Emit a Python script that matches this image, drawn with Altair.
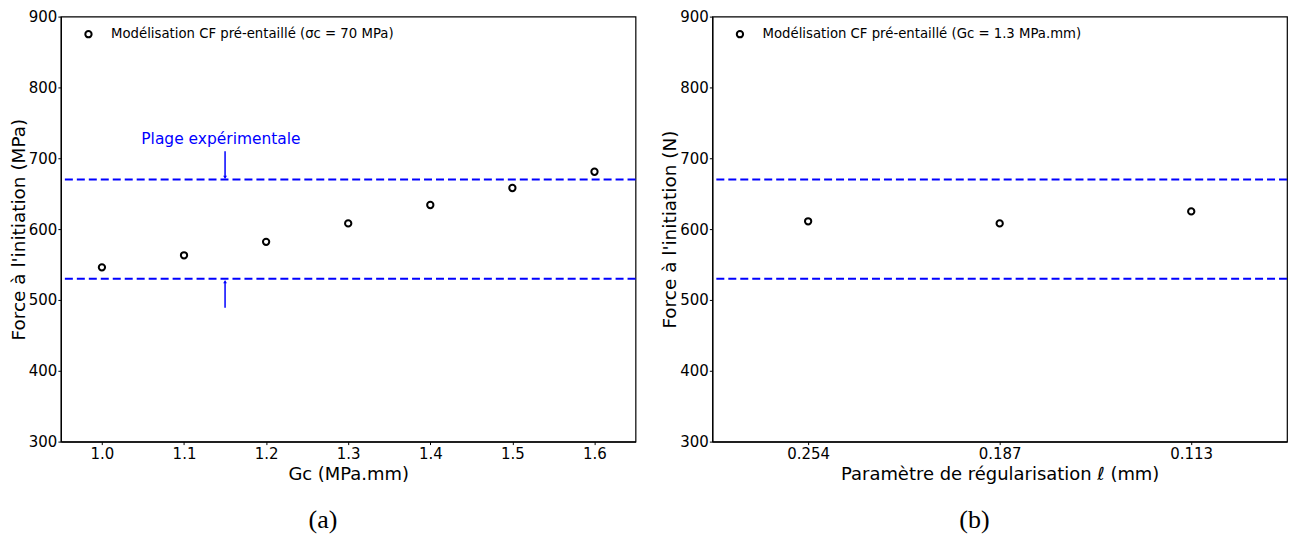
import altair as alt
import pandas as pd

# ---- data ----
gc_values = [1.0, 1.1, 1.2, 1.3, 1.4, 1.5, 1.6]
force_a = [546, 563, 582, 608, 634, 658, 681]
ell_labels = ["0.254", "0.187", "0.113"]
force_b = [611, 608, 625]
exp_range = [530, 670]
arrow_x = 1.15
arrow_top = [710, 673]
arrow_bottom = [489, 526]
annot_x = 1.145
annot_y = 727
legend_a = "Modélisation CF pré-entaillé (σc = 70 MPa)"
legend_b = "Modélisation CF pré-entaillé (Gc = 1.3 MPa.mm)"
y_ticks = [300, 400, 500, 600, 700, 800, 900]

FONT = "DejaVu Sans"
BLUE = "#0000ff"
PW = 576
PH = 426

df_a = pd.DataFrame({"gc": gc_values, "force": force_a, "serie": legend_a})
df_b = pd.DataFrame({"ell": ell_labels, "force": force_b, "serie": legend_b})
df_rng = pd.DataFrame({"v": exp_range})

ydom = alt.Scale(domain=[300, 900], nice=False, zero=False)


def legend_box():
    return alt.Legend(orient="none", legendX=21, legendY=11, title=None, padding=0,
                      labelFont=FONT, labelFontSize=13.3, labelColor="black",
                      symbolType="circle", symbolSize=40, symbolStrokeWidth=2,
                      symbolStrokeColor="black", symbolFillColor="white",
                      labelOffset=16, labelLimit=600)


def caption(txt):
    return alt.TitleParams(txt, orient="bottom", font="Liberation Serif", fontSize=26,
                           fontWeight="normal", color="black", offset=24,
                           frame="bounds", anchor="middle")


# ---- panel a ----
pts_a = alt.Chart(df_a).mark_point(filled=False, size=40, strokeWidth=2, opacity=1).encode(
    x=alt.X("gc:Q", scale=alt.Scale(domain=[0.95, 1.65], nice=False, zero=False),
            axis=alt.Axis(title="Gc (MPa.mm)", values=gc_values, format=".1f")),
    y=alt.Y("force:Q", scale=ydom, axis=alt.Axis(title="Force à l'initiation (MPa)", values=y_ticks)),
    color=alt.Color("serie:N", scale=alt.Scale(range=["black"]), legend=legend_box()),
)
rules_a = alt.Chart(df_rng).mark_rule(color=BLUE, strokeWidth=2, strokeDash=[8, 4]).encode(
    y=alt.Y("v:Q", scale=ydom)
)
arrows_df = pd.DataFrame({
    "x": [arrow_x, arrow_x],
    "y1": [arrow_top[0], arrow_bottom[0]],
    "y2": [arrow_top[1], arrow_bottom[1]],
    "shape": ["triangle-down", "triangle-up"],
})
arrow_lines = alt.Chart(arrows_df).mark_rule(color=BLUE, strokeWidth=1.5).encode(
    x="x:Q", y=alt.Y("y1:Q", scale=ydom), y2="y2:Q"
)
arrow_heads = alt.Chart(arrows_df).mark_point(filled=True, color=BLUE, size=14, opacity=1).encode(
    x="x:Q", y=alt.Y("y2:Q", scale=ydom),
    shape=alt.Shape("shape:N", scale=alt.Scale(domain=["triangle-down", "triangle-up"],
                                              range=["triangle-down", "triangle-up"]), legend=None),
)
annot = alt.Chart(pd.DataFrame({"x": [annot_x], "y": [annot_y], "t": ["Plage expérimentale"]})).mark_text(
    color=BLUE, font=FONT, fontSize=15.5, align="center", baseline="middle"
).encode(x="x:Q", y=alt.Y("y:Q", scale=ydom), text="t:N")

panel_a = alt.layer(rules_a, arrow_lines, arrow_heads, annot, pts_a).properties(
    width=PW, height=PH, title=caption("(a)"),
).resolve_scale(color="independent", shape="independent")

# ---- panel b ----
pts_b = alt.Chart(df_b).mark_point(filled=False, size=40, strokeWidth=2, opacity=1).encode(
    x=alt.X("ell:N", sort=ell_labels, scale=alt.Scale(type="point", padding=0.5),
            axis=alt.Axis(title="Paramètre de régularisation ℓ (mm)", labelAngle=0)),
    y=alt.Y("force:Q", scale=ydom, axis=alt.Axis(title="Force à l'initiation (N)", values=y_ticks)),
    color=alt.Color("serie:N", scale=alt.Scale(range=["black"]), legend=legend_box()),
)
rules_b = alt.Chart(df_rng).mark_rule(color=BLUE, strokeWidth=2, strokeDash=[8, 4]).encode(
    y=alt.Y("v:Q", scale=ydom)
)
panel_b = alt.layer(rules_b, pts_b).properties(
    width=PW, height=PH, title=caption("(b)"),
)

chart = alt.hconcat(panel_a, panel_b, spacing=22).resolve_scale(color="independent").properties(
    padding={"left": 0, "top": 0, "right": 0, "bottom": 0}
).configure_view(stroke="black", strokeWidth=1.2).configure_axis(
    grid=False, domainColor="black", labelColor="black", titleColor="black", tickColor="black",
    labelFont=FONT, titleFont=FONT, labelFontSize=15, titleFontWeight="normal",
    ticks=True, tickSize=3, tickWidth=1, domainWidth=1.2,
).configure_axisY(titlePadding=0, labelPadding=1, titleFontSize=18.5).configure_axisX(
    titlePadding=4, labelPadding=2, titleFontSize=18)

chart.save("out.html", embed_options={"renderer": "svg", "actions": False})
